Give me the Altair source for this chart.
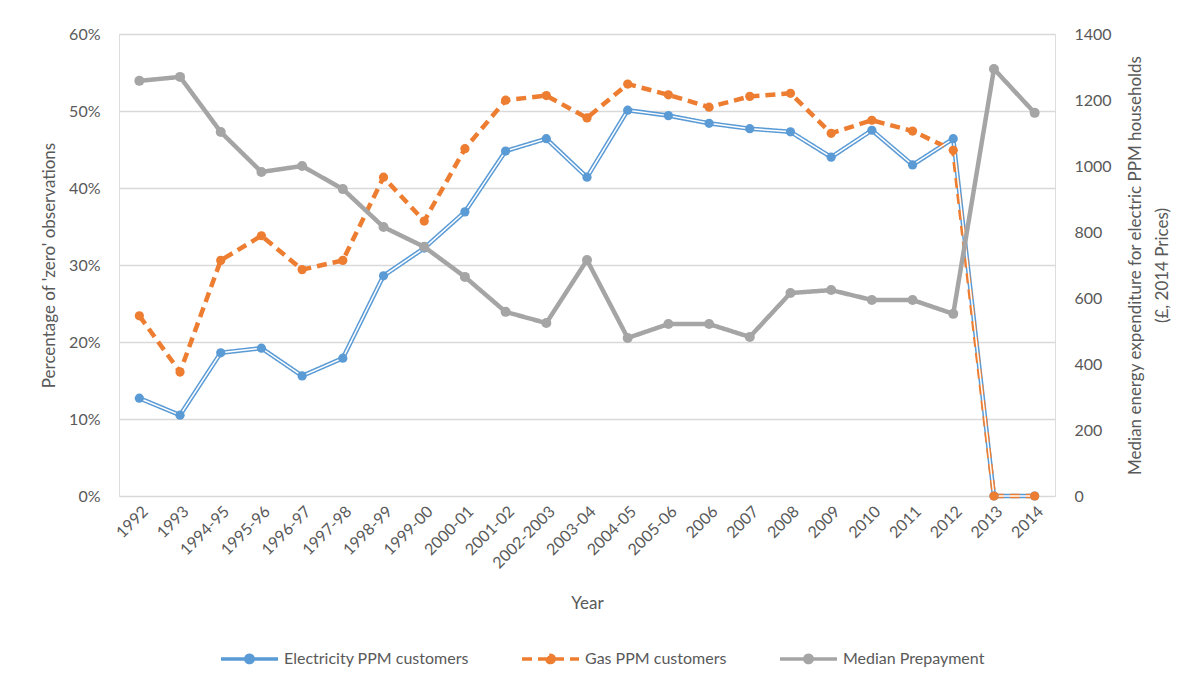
import altair as alt
import pandas as pd

categories = ["1992", "1993", "1994-95", "1995-96", "1996-97", "1997-98", "1998-99",
              "1999-00", "2000-01", "2001-02", "2002-2003", "2003-04", "2004-05",
              "2005-06", "2006", "2007", "2008", "2009", "2010", "2011", "2012",
              "2013", "2014"]
electricity = [0.127, 0.105, 0.186, 0.192, 0.156, 0.179, 0.286, 0.322, 0.369, 0.448,
               0.464, 0.414, 0.501, 0.494, 0.484, 0.477, 0.473, 0.440, 0.475, 0.430,
               0.464, 0.0, 0.0]
gas = [0.234, 0.161, 0.306, 0.338, 0.294, 0.306, 0.414, 0.357, 0.451, 0.514, 0.520,
       0.491, 0.535, 0.521, 0.505, 0.519, 0.523, 0.471, 0.488, 0.474, 0.449, 0.0, 0.0]
median = [1258, 1270, 1103, 982, 1000, 930, 815, 755, 664, 558, 524, 715, 479, 521,
          521, 482, 615, 624, 594, 594, 552, 1294, 1161]
series_names = ["Electricity PPM customers", "Gas PPM customers", "Median Prepayment"]
colors = ["#5B9BD5", "#ED7D31", "#A5A5A5"]
dashes = [[1, 0], [10, 6], [1, 0]]
left_ticks = [0, 0.1, 0.2, 0.3, 0.4, 0.5, 0.6]
right_ticks = [0, 200, 400, 600, 800, 1000, 1200, 1400]

left_df = pd.DataFrame({
    "category": categories * 2,
    "series": [series_names[0]] * len(categories) + [series_names[1]] * len(categories),
    "value": electricity + gas,
})
right_df = pd.DataFrame({
    "category": categories,
    "series": [series_names[2]] * len(categories),
    "value": median,
})

FONT = "Lato"
TXT = "#595959"

x_enc = alt.X("category:N", sort=categories, scale=alt.Scale(padding=0.5),
              axis=alt.Axis(title="Year", labelAngle=-45, ticks=False, domain=False,
                            labelPadding=7, titlePadding=24, labelFontSize=16,
                            titleFontSize=17, labelColor=TXT, titleColor=TXT,
                            titleFontWeight="normal"))

legend_kw = dict(title=None, orient="none", direction="horizontal",
                 legendX=100, legendY=594, labelLimit=400)
color_enc = alt.Color("series:N", scale=alt.Scale(domain=series_names, range=colors),
                      legend=alt.Legend(**legend_kw))
dash_enc = alt.StrokeDash("series:N", scale=alt.Scale(domain=series_names, range=dashes),
                          legend=alt.Legend(**legend_kw))

y_left = alt.Y("value:Q", scale=alt.Scale(domain=[0, 0.6]),
               axis=alt.Axis(format=".0%", values=left_ticks, grid=True, gridColor="#D9D9D9",
                             gridWidth=1.3, domain=False, ticks=False, labelPadding=19,
                             title="Percentage of 'zero' observations", titlePadding=10,
                             labelFontSize=16, titleFontSize=17, labelColor=TXT,
                             titleColor=TXT, titleFontWeight="normal"))
y_right = alt.Y("value:Q", scale=alt.Scale(domain=[0, 1400]),
                axis=alt.Axis(orient="right", values=right_ticks, format="d", grid=False,
                              domain=False, ticks=False, labelPadding=19,
                              title=["Median energy expenditure for electric PPM households",
                                     "(£, 2014 Prices)"],
                              titleAngle=270, titlePadding=6, titleLineHeight=27,
                              labelFontSize=16, titleFontSize=17, labelColor=TXT,
                              titleColor=TXT, titleFontWeight="normal"))

base_left = alt.Chart(left_df)
line_left = base_left.mark_line(strokeWidth=4.5).encode(
    x=x_enc, y=y_left, color=color_enc, strokeDash=dash_enc,
    strokeWidth=alt.StrokeWidth("series:N", scale=alt.Scale(domain=series_names[:2], range=[5, 4]), legend=None))
inner_left = base_left.transform_filter(
    alt.datum.series == series_names[0]
).mark_line(strokeWidth=1.5, color="white").encode(x=x_enc, y=y_left)
points_left = base_left.mark_point(filled=True, size=85, opacity=1).encode(
    x=x_enc, y=y_left, color=color_enc)
layer_left = alt.layer(line_left, inner_left, points_left)

base_right = alt.Chart(right_df)
line_right = base_right.mark_line(strokeWidth=4.5).encode(
    x=x_enc, y=y_right, color=color_enc, strokeDash=dash_enc)
points_right = base_right.mark_point(filled=True, size=100, opacity=1).encode(
    x=x_enc, y=y_right, color=color_enc)
layer_right = alt.layer(line_right, points_right)

legend_path = ("M-1,0H1M0.13,0A0.13,0.13,0,1,1,-0.13,0A0.13,0.13,0,1,1,0.13,0Z"
               "M0.05,0A0.05,0.05,0,1,1,-0.05,0A0.05,0.05,0,1,1,0.05,0Z")

chart = alt.layer(layer_left, layer_right).resolve_scale(
    y="independent", strokeWidth="independent"
).properties(
    width=936, height=462,
    padding={"left": 32, "top": 18, "right": 0, "bottom": 5},
).configure_view(stroke=None).configure(font=FONT).configure_legend(
    symbolType=legend_path, symbolSize=3249, symbolStrokeWidth=3.5,
    labelFontSize=16, labelColor=TXT, labelFont=FONT, columnPadding=46, labelOffset=4,
)

chart.save("out.html", embed_options={"renderer": "svg", "actions": False})
